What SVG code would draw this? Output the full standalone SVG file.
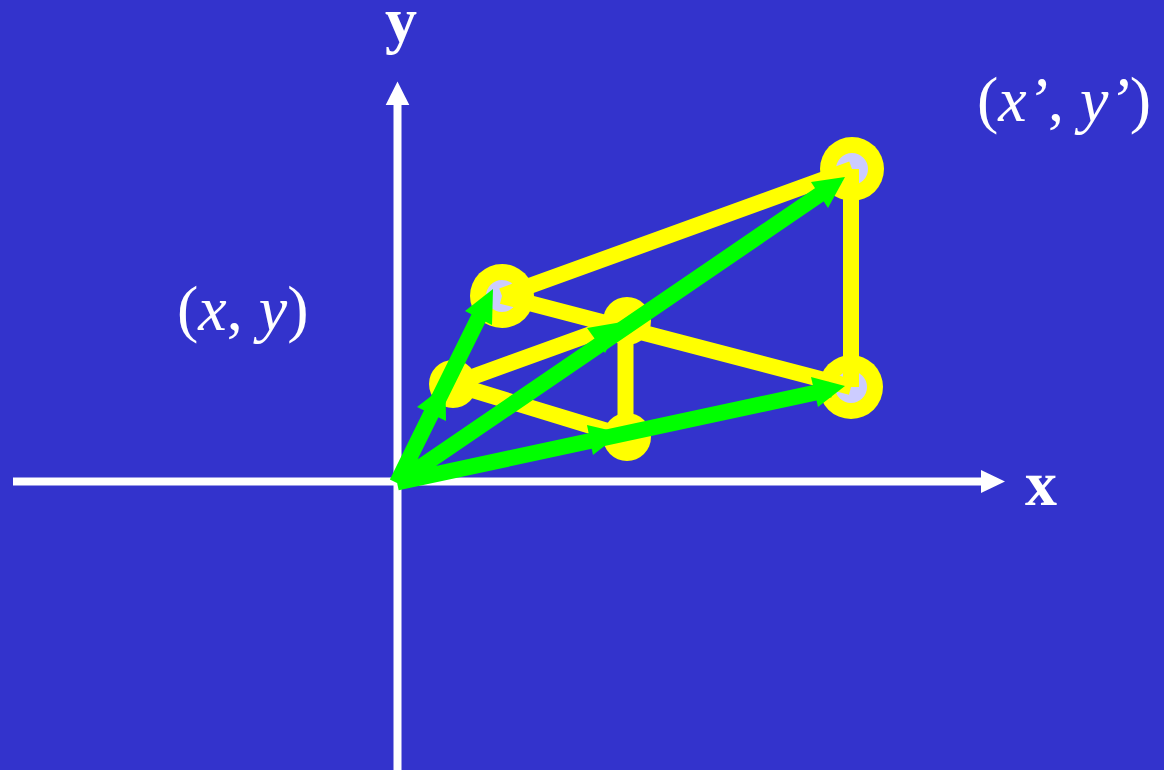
<svg xmlns="http://www.w3.org/2000/svg" width="1164" height="770" viewBox="0 0 1164 770">
<style>
.big{fill:#ffff00}
.hole{fill:#ccccff}
.y{stroke:#ffff00;stroke-width:16;fill:none}
.g{stroke:#00ff00;stroke-width:16;fill:none}
.gh{fill:#00ff00}
.ax{stroke:#ffffff;stroke-width:8;fill:none}
.ah{fill:#ffffff}
.t{font-family:"Liberation Serif","Times New Roman",serif;fill:#ffffff;font-size:64px}
.b{font-weight:bold}
.i{font-style:italic}
</style>
<rect width="1164" height="770" fill="#3333cc"/>
<g id="axis-x"><path class="ax" d="M13 481.5H985"/><polygon class="ah" points="981,470 1005,481.5 981,493"/></g>
<g id="axis-y"><path class="ax" d="M397.5 770V100"/><polygon class="ah" points="385.7,105 397.5,81.5 409.3,105"/></g>
<g id="node-a"><circle class="big" cx="502" cy="296" r="32"/><circle class="hole" cx="502" cy="296" r="16"/></g>
<g id="node-b"><circle class="big" cx="852" cy="169" r="32"/><circle class="hole" cx="852" cy="169" r="16"/></g>
<g id="node-c"><circle class="big" cx="851" cy="387" r="32"/><circle class="hole" cx="851" cy="387" r="16"/></g>
<g id="node-d"><circle class="big" cx="453" cy="384" r="24"/></g>
<g id="node-e"><circle class="big" cx="627" cy="321" r="24"/></g>
<g id="node-f"><circle class="big" cx="627" cy="437" r="24"/></g>
<g id="connectors">
<path class="y" d="M502 296L852 169M502 296L851 387M453 384L627 321M453 384L627 437M851 169V387M625.500 321V437"/>
<path class="g" d="M397 483L484 307M397 483L830 187.500M397 482.500L830 389.500"/>
<polygon class="gh" points="465,311 493,289 492,325"/>
<polygon class="gh" points="417,407 445.500,385 446,421"/>
<polygon class="gh" points="811,182 845,177 828,208"/>
<polygon class="gh" points="587,328 622,322 605,353"/>
<polygon class="gh" points="811,377 845,386 818,407"/>
<polygon class="gh" points="587,425 621,433 593,455"/>
</g>
<text class="t b" x="385" y="41">y</text>
<text class="t b" x="1025" y="505">x</text>
<text class="t" x="177" y="330">(<tspan class="i">x</tspan>, <tspan class="i">y</tspan>)</text>
<text class="t" x="977" y="121">(<tspan class="i">x’</tspan>, <tspan class="i">y’</tspan>)</text>
</svg>
